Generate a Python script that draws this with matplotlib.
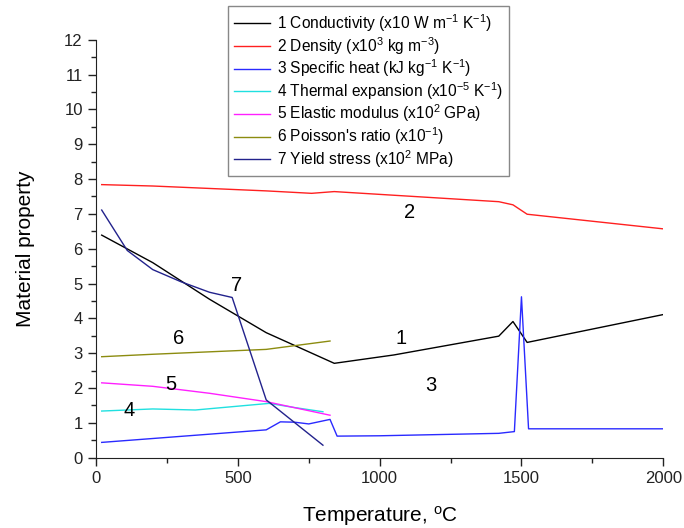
import matplotlib
matplotlib.use('Agg')
import matplotlib.pyplot as plt
from matplotlib.ticker import MultipleLocator

plt.rcParams['font.family'] = ['Liberation Sans', 'DejaVu Sans']
plt.rcParams['mathtext.fontset'] = 'custom'
plt.rcParams['mathtext.rm'] = 'Liberation Sans'
plt.rcParams['mathtext.it'] = 'Liberation Sans:italic'

# Data
t_cond = [20, 200, 400, 600, 840, 1050, 1420, 1470, 1520, 2000]
conductivity = [6.39, 5.60, 4.55, 3.59, 2.71, 2.95, 3.49, 3.91, 3.31, 4.11]

t_dens = [20, 200, 400, 600, 760, 840, 1000, 1200, 1420, 1470, 1520, 2000]
density = [7.84, 7.80, 7.73, 7.66, 7.59, 7.64, 7.56, 7.46, 7.35, 7.26, 6.99, 6.57]

t_cp = [20, 600, 650, 700, 750, 825, 850, 1000, 1420, 1475, 1500, 1525, 2000]
specific_heat = [0.44, 0.80, 1.03, 1.02, 0.97, 1.10, 0.62, 0.63, 0.70, 0.75, 4.62, 0.83, 0.83]

t_exp = [20, 200, 350, 610, 700, 800]
expansion = [1.34, 1.40, 1.37, 1.56, 1.44, 1.32]

t_mod = [20, 200, 400, 600, 825]
modulus = [2.15, 2.05, 1.85, 1.61, 1.22]

t_pois = [20, 200, 400, 600, 825]
poisson = [2.90, 2.97, 3.04, 3.11, 3.35]

t_yield = [20, 110, 200, 300, 400, 480, 600, 800]
yield_stress = [7.11, 5.95, 5.40, 5.05, 4.75, 4.60, 1.66, 0.36]

labels = ['1 Conductivity (x10 W m$^{-1}$ K$^{-1}$)',
          '2 Density (x10$^{3}$ kg m$^{-3}$)',
          '3 Specific heat (kJ kg$^{-1}$ K$^{-1}$)',
          '4 Thermal expansion (x10$^{-5}$ K$^{-1}$)',
          '5 Elastic modulus (x10$^{2}$ GPa)',
          "6 Poisson's ratio (x10$^{-1}$)",
          '7 Yield stress (x10$^{2}$ MPa)']

# curve number annotations (temperature, value)
num_pos = {'1': (1075, 3.42), '2': (1105, 7.05), '3': (1180, 2.08),
           '4': (115, 1.35), '5': (265, 2.1), '6': (290, 3.42), '7': (495, 4.95)}

fig = plt.figure(figsize=(6.84, 5.28), dpi=100)
ax = fig.add_axes([0.1404, 0.1331, 0.8293, 0.7917])

ax.plot(t_cond, conductivity, color='black', lw=1, label=labels[0])
ax.plot(t_dens, density, color='#ff2020', lw=1, label=labels[1])
ax.plot(t_cp, specific_heat, color='#2a2aff', lw=1, label=labels[2])
ax.plot(t_exp, expansion, color='#20e0e0', lw=1, label=labels[3])
ax.plot(t_mod, modulus, color='#ff20ff', lw=1, label=labels[4])
ax.plot(t_pois, poisson, color='#8c8c10', lw=1, label=labels[5])
ax.plot(t_yield, yield_stress, color='#22228c', lw=1, label=labels[6])

for k, (x, y) in num_pos.items():
    ax.text(x, y, k, fontsize=14.5, ha='center', va='center')

ax.set_xlim(0, 2000)
ax.set_ylim(0, 12)
ax.xaxis.set_major_locator(MultipleLocator(500))
ax.xaxis.set_minor_locator(MultipleLocator(250))
ax.yaxis.set_major_locator(MultipleLocator(1))
ax.yaxis.set_minor_locator(MultipleLocator(0.5))
ax.tick_params(which='major', direction='out', length=6, width=1, labelsize=12, colors='#222222')
ax.tick_params(which='minor', direction='out', length=3.5, width=1, colors='#222222')
ax.spines['top'].set_visible(False)
ax.spines['right'].set_visible(False)
ax.spines['left'].set_color('#222222')
ax.spines['bottom'].set_color('#222222')

ax.set_xlabel('Temperature, $^{\\rm o}$C', fontsize=15, labelpad=13)
ax.set_ylabel('Material property', fontsize=15, labelpad=21)

leg = ax.legend(loc='upper left', bbox_to_anchor=(228 / 684, 1 - 6 / 528),
                bbox_transform=fig.transFigure, fontsize=11.2, frameon=True,
                fancybox=False, framealpha=1, edgecolor='#888888',
                handlelength=2.3, handletextpad=0.45, labelspacing=0.06,
                borderpad=0.4, borderaxespad=0)
leg.get_frame().set_linewidth(1)

fig.savefig('out.png', dpi=100)
